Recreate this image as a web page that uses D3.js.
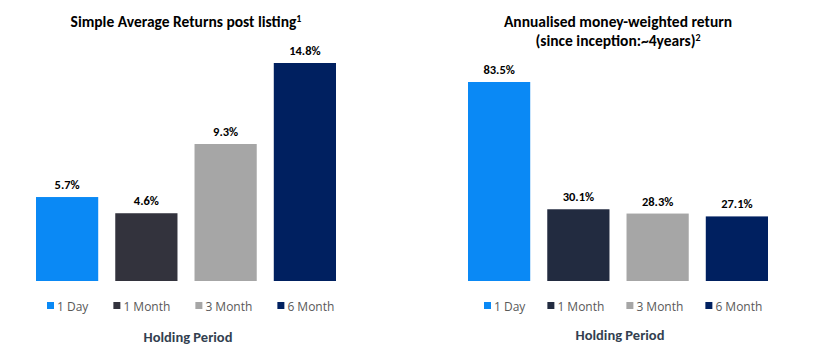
<!DOCTYPE html>
<html>
<head>
<meta charset="utf-8">
<script src="https://cdn.jsdelivr.net/npm/d3@7"></script>
<style>
  body { margin: 0; background: #fff; }
  svg { display: block; font-family: Calibri, Carlito, Lato, sans-serif; }
</style>
</head>
<body>
<div id="chart"></div>
<script>
// Data
const periods = ['1 Day', '1 Month', '3 Month', '6 Month'];
const simpleReturns = [5.7, 4.6, 9.3, 14.8];
const mwReturns = [83.5, 30.1, 28.3, 27.1];
const leftColors = ['#0A89F5', '#33333D', '#A6A6A6', '#002060'];
const rightColors = ['#0A89F5', '#222B40', '#A6A6A6', '#002060'];

const width = 814;
const height = 362;

const svg = d3.select('#chart')
  .append('svg')
  .attr('width', width)
  .attr('height', height);

// one panel per chart
function panel(opts) {
  const { x0, x1, values, colors, yMax, titleLines, legendX, legendGap, axisTitleY } = opts;
  const baseline = 281;
  const top = 63;

  const x = d3.scaleBand().domain(periods).range([x0, x1]).paddingInner(0.215).paddingOuter(0);
  const y = d3.scaleLinear().domain([0, yMax]).range([baseline, top]);

  const g = svg.append('g');

  g.selectAll('rect.bar')
    .data(values)
    .join('rect')
    .attr('class', 'bar')
    .attr('x', (d, i) => x(periods[i]))
    .attr('width', x.bandwidth())
    .attr('y', d => y(d))
    .attr('height', d => baseline - y(d))
    .attr('fill', (d, i) => colors[i]);

  g.selectAll('text.val')
    .data(values)
    .join('text')
    .attr('class', 'val')
    .attr('x', (d, i) => x(periods[i]) + x.bandwidth() / 2)
    .attr('y', d => y(d) - 8)
    .attr('text-anchor', 'middle')
    .attr('font-size', 12.5)
    .attr('font-weight', 700)
    .attr('fill', '#000')
    .text(d => d.toFixed(1) + '%');

  // title
  const cx = (x0 + x1) / 2;
  const title = g.append('text')
    .attr('text-anchor', 'middle')
    .attr('font-size', 15.5)
    .attr('font-weight', 700)
    .attr('fill', '#000');
  titleLines.forEach((line, i) => {
    title.append('tspan').attr('x', cx).attr('y', 27 + i * 19).text(line[0]);
    if (line[1]) {
      title.append('tspan').attr('dy', -5).attr('font-size', 10).text(line[1]);
    }
  });

  // legend
  const leg = g.append('g');
  let lx = legendX;
  periods.forEach((p, i) => {
    leg.append('rect')
      .attr('x', lx).attr('y', 302)
      .attr('width', 7).attr('height', 7)
      .attr('fill', colors[i]);
    const t = leg.append('text')
      .attr('x', lx + 10).attr('y', 310.5)
      .attr('font-family', '"Open Sans", sans-serif')
      .attr('font-size', 12)
      .attr('fill', '#595959')
      .text(p);
    lx += 10 + t.node().getComputedTextLength() + legendGap;
  });

  g.append('text')
    .attr('x', cx + 2)
    .attr('y', axisTitleY)
    .attr('text-anchor', 'middle')
    .attr('font-size', 14.5)
    .attr('font-weight', 700)
    .attr('fill', '#333F50')
    .text('Holding Period');
}

panel({
  x0: 36, x1: 336,
  values: simpleReturns,
  colors: leftColors,
  yMax: 14.8,
  titleLines: [['Simple Average Returns post listing', '1']],
  legendX: 47, legendGap: 25,
  axisTitleY: 342
});

panel({
  x0: 468, x1: 768,
  values: mwReturns,
  colors: rightColors,
  yMax: 83.5 * (281 - 63) / (281 - 82),
  titleLines: [['Annualised money-weighted return'], ['(since inception:~4years)', '2']],
  legendX: 484, legendGap: 22,
  axisTitleY: 340
});
</script>
</body>
</html>
